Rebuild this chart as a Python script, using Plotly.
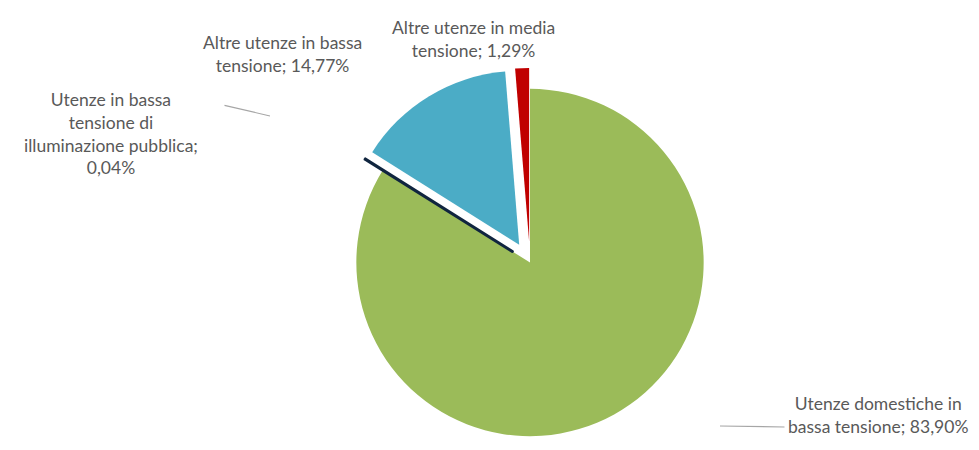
import plotly.graph_objects as go

labels = [
    "Utenze domestiche in bassa tensione",
    "Utenze in bassa tensione di illuminazione pubblica",
    "Altre utenze in bassa tensione",
    "Altre utenze in media tensione",
]
values = [83.90, 0.04, 14.77, 1.29]
value_text = ["83,90%", "0,04%", "14,77%", "1,29%"]
colors = ["#9BBB59", "#10253F", "#4BACC6", "#C00000"]
pulls = [0, 0.12, 0.12, 0.12]

label_text = [
    "Utenze domestiche in<br>bassa tensione; " + value_text[0],
    "Utenze in bassa<br>tensione di<br>illuminazione pubblica;<br>" + value_text[1],
    "Altre utenze in bassa<br>tensione; " + value_text[2],
    "Altre utenze in media<br>tensione; " + value_text[3],
]

W, H = 979, 450

fig = go.Figure(go.Pie(
    labels=labels,
    values=values,
    sort=False,
    direction="clockwise",
    rotation=0,
    pull=pulls,
    marker=dict(colors=colors,
                line=dict(color=colors, width=[0, 3, 0, 0])),
    textinfo="none",
    hoverinfo="label+percent",
    showlegend=False,
    domain=dict(x=[(522 - 205) / W, (522 + 205) / W], y=[1 - 449 / H, 1 - 60 / H]),
))

font = dict(family="Lato, 'Open Sans', sans-serif", size=17.5, color="#595959")

label_pos = [
    (870, 407),
    (103, 125),
    (274, 46),
    (465, 31),
]

for txt, (px, py) in zip(label_text, label_pos):
    fig.add_annotation(
        x=px / W, y=1 - py / H, xref="paper", yref="paper",
        text=txt, showarrow=False, font=font,
        xanchor="center", yanchor="middle", align="center",
    )

# leader lines
fig.add_annotation(x=712 / W, y=1 - 418 / H, xref="paper", yref="paper",
                   ax=66, ay=1, axref="pixel", ayref="pixel",
                   showarrow=True, arrowhead=0, arrowwidth=1.2, arrowcolor="#A6A6A6", text="")
fig.add_annotation(x=262 / W, y=1 - 108 / H, xref="paper", yref="paper",
                   ax=-47, ay=-11, axref="pixel", ayref="pixel",
                   showarrow=True, arrowhead=0, arrowwidth=1.2, arrowcolor="#A6A6A6", text="")

fig.update_layout(
    width=W, height=H,
    margin=dict(l=0, r=0, t=0, b=0),
    paper_bgcolor="white",
    plot_bgcolor="white",
)

fig.write_html("out.html")
